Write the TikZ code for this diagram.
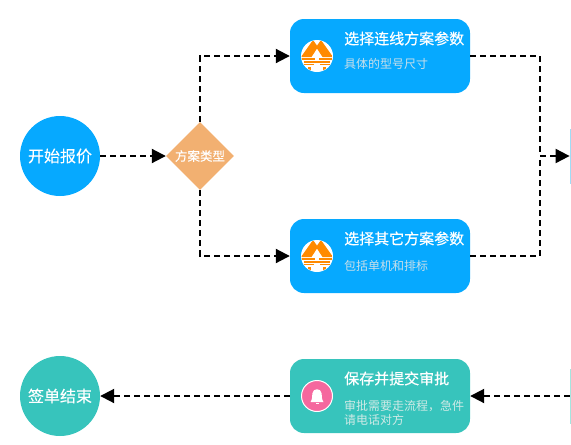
\documentclass[tikz,border=0pt]{standalone}
\usepackage{fontspec}
\setmainfont{Noto Sans CJK SC}
\newfontfamily\heavyface{Noto Sans CJK SC}[FakeBold=0.5]
\newfontfamily\midface{Noto Sans CJK SC}[FakeBold=0.12]
\usetikzlibrary{arrows.meta,shapes.geometric}
\definecolor{blueF}{HTML}{06A9FF}
\definecolor{tealF}{HTML}{37C4BC}
\definecolor{sandF}{HTML}{F2B071}
\definecolor{orgF}{HTML}{FF8A00}
\definecolor{pinkF}{HTML}{F5689E}
\definecolor{subB}{HTML}{C8DFEA}
\definecolor{subT}{HTML}{CFEAE6}
\definecolor{stripA}{HTML}{9FDCF5}
\definecolor{stripB}{HTML}{A5E5DF}
\tikzset{
  x=1pt,y=-1pt,
  flow/.style={draw=black,line width=2pt,dash pattern=on 6pt off 4pt},
  tip/.style={-{Triangle[length=14pt,width=14pt]}},
  roundnode/.style={circle,minimum size=80pt,inner sep=0pt,text=white,font=\midface\fontsize{16}{16}\selectfont},
  card/.style={rectangle,rounded corners=14pt,minimum width=180pt,minimum height=74pt,inner sep=0pt},
  strip/.style={rectangle,minimum width=1.4pt,minimum height=55pt,inner sep=0pt},
  ttl/.style={anchor=west,inner sep=0pt,text=white,font=\heavyface\fontsize{15}{15}\selectfont},
  subt/.style={anchor=north west,inner sep=0pt,font=\fontsize{12}{14}\selectfont,align=left},
  iconw/.style={circle,fill=white,minimum size=32pt,inner sep=0pt},
}
\newcommand{\logoicon}[1]{%
  \node[iconw] (#1) at (317,\yc) {};
  \begin{scope}[shift={(317,\yc)}]
    \clip (0,0) circle[radius=15.5];
    \fill[orgF] (-16,1) -- (-4,-16) -- (1,-9) -- (-5.5,1) -- cycle;
    \fill[orgF] (16,1) -- (4,-16) -- (-1,-9) -- (5.5,1) -- cycle;
    \fill[orgF] (-16,2.4) rectangle (-2,3.6);
    \fill[orgF] (2,2.4) rectangle (16,3.6);
    \fill[orgF] (-13,5.4) rectangle (13,6.6);
    \fill[orgF] (-13,8.2) rectangle (-3,9.4);
    \fill[orgF] (3,8.2) rectangle (13,9.4);
    \fill[orgF] (-9,11) rectangle (-6,15);
    \fill[orgF] (6,11) rectangle (9,15);
  \end{scope}}
\begin{document}
\begin{tikzpicture}
\useasboundingbox (0,0) rectangle (571,445);
\node[roundnode,fill=blueF] (start) at (60,156) {开始报价};
\node[roundnode,fill=tealF] (finish) at (60,396) {签单结束};
\node[diamond,shape aspect=1,fill=sandF,minimum size=68pt,inner sep=0pt,text=white,font=\midface\fontsize{12.5}{12.5}\selectfont] (kind) at (200,156) {方案类型};
\node[card,fill=blueF] (boxa) at (380,56) {};
\node[card,fill=blueF] (boxb) at (380,256) {};
\node[card,fill=tealF] (boxc) at (380,396) {};
\node[strip,fill=stripA] (stripa) at (570.5,156) {};
\node[strip,fill=stripB] (stripb) at (570.5,396) {};
\coordinate (joint) at (540,156);
%
\draw[flow,tip] (start) -- (kind);
\draw[flow,tip] (kind.north) |- (boxa.west);
\draw[flow,tip] (kind.south) |- (boxb.west);
\draw[flow] (boxa.east) -| (joint);
\draw[flow] (boxb.east) -| (joint);
\draw[flow,tip] (joint) -- (stripa.west);
\draw[flow,tip] (stripb.west) -- (boxc.east);
\draw[flow,tip] (boxc.west) -- (finish.east);
%
\def\yc{56}\logoicon{icona}
\def\yc{256}\logoicon{iconb}
\node[circle,fill=pinkF,draw=white,line width=1pt,minimum size=31pt,inner sep=0pt] (iconc) at (317,396) {};
\begin{scope}[shift={(317,396)}]
  \fill[white] (-6.5,6) .. controls (-4.5,4) and (-5,-1) .. (-4.5,-3) .. controls (-4,-8) and (4,-8) .. (4.5,-3) .. controls (5,-1) and (4.5,4) .. (6.5,6) -- cycle;
  \fill[white] (-1.5,7) rectangle (1.5,8.2);
\end{scope}
%
\node[ttl] (ta) at (344,38.5) {选择连线方案参数};
\node[subt,text=subB] (sa) at (344,58) {具体的型号尺寸};
\node[ttl] (tb) at (344,238.5) {选择其它方案参数};
\node[subt,text=subB] (sb) at (344,260) {包括单机和排标};
\node[ttl] (tc) at (344,378.5) {保存并提交审批};
\node[subt,text=subT] (sc) at (344,400) {审批需要走流程，急件\\请电话对方};
\end{tikzpicture}
\end{document}
